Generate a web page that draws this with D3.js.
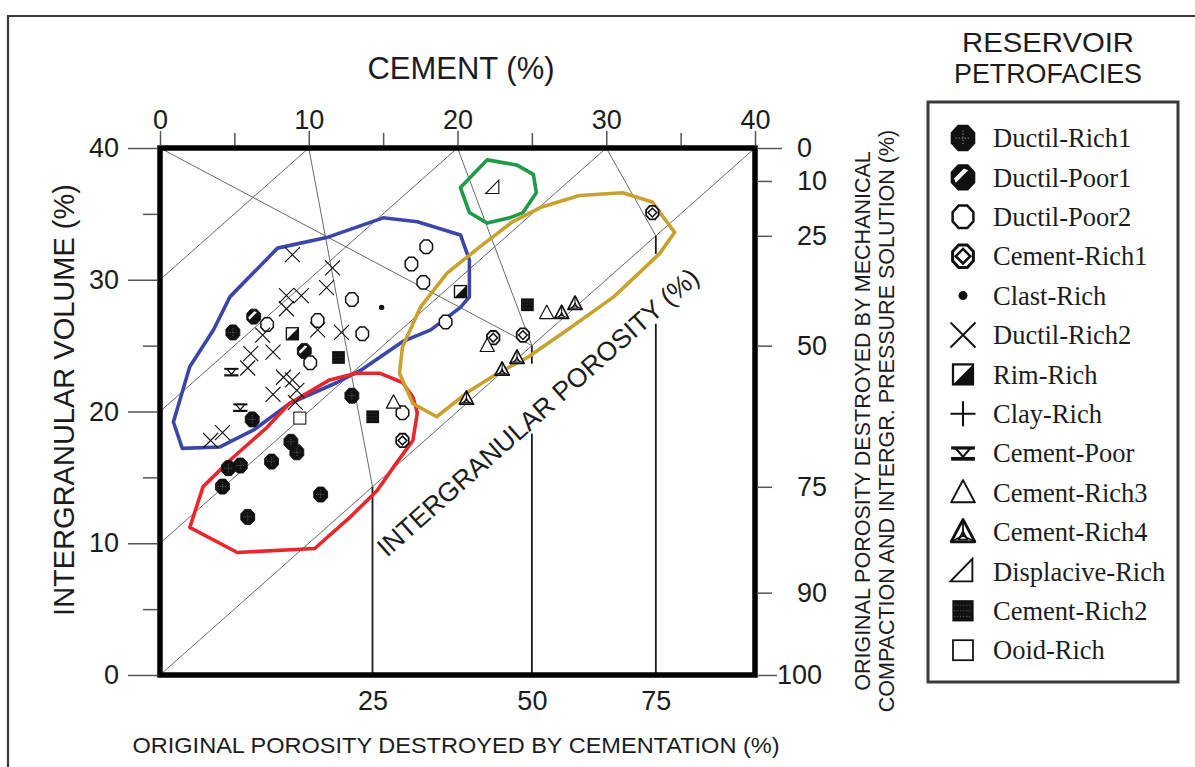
<!DOCTYPE html>
<html>
<head>
<meta charset="utf-8">
<script src="https://cdn.jsdelivr.net/npm/d3@7"></script>
<style>
  body { margin: 0; background: #fff; }
  svg { display: block; }
  text { fill: #1c1c1c; }
</style>
</head>
<body>
<svg id="chart" width="1195" height="767"></svg>
<script>
// ---- axes ----
const cementTicks = [0, 10, 20, 30, 40];
const cementMinor = [5, 15, 25, 35];
const igvTicks = [0, 10, 20, 30, 40];
const igvMinor = [5, 15, 25, 35];
const compactionTicks = [0, 10, 25, 50, 75, 90, 100];   // % of original porosity lost by compaction
const cementationTicks = [25, 50, 75];                  // % of original porosity lost by cementation
const porosityLines = [0, 10, 20, 30];                  // intergranular porosity isolines
const ORIGINAL_POROSITY = 40;

// ---- petrofacies samples: [cement %, intergranular volume %] ----
const ductilRich1 = [[4.9, 26.0], [6.2, 19.4], [8.8, 17.7], [9.2, 16.9], [7.5, 16.2], [5.4, 15.9],
                     [4.6, 15.7], [4.2, 14.3], [10.8, 13.7], [5.9, 12.0], [12.9, 21.2]];
const ductilPoor1 = [[6.3, 27.2], [9.7, 24.6]];
const ductilPoor2 = [[7.2, 26.6], [10.6, 26.9], [12.9, 28.5], [13.6, 25.9], [16.9, 31.2], [17.9, 32.5],
                     [17.7, 29.8], [19.2, 26.8], [10.1, 23.7], [16.3, 19.9]];
const cementRich1 = [[16.3, 17.8], [22.4, 25.6], [24.4, 25.8], [33.1, 35.1]];
const clastRich = [[14.9, 27.9]];
const ductilRich2 = [[8.9, 31.9], [11.6, 30.9], [11.2, 29.4], [8.5, 28.8], [9.5, 28.8], [8.5, 27.8],
                     [10.6, 26.2], [12.2, 26.0], [6.9, 25.8], [7.6, 24.5], [6.1, 24.4], [5.9, 23.3],
                     [8.3, 22.6], [8.9, 22.4], [9.2, 21.6], [7.6, 21.3], [9.1, 20.7], [3.4, 17.8], [4.2, 18.4]];
const rimRich = [[20.2, 29.1], [8.9, 25.9]];
const clayRich = [];
const cementPoor = [[4.8, 23.0], [5.4, 20.3]];
const cementRich3 = [[15.7, 20.7], [26.0, 27.5], [22.0, 25.0]];
const cementRich4 = [[27.0, 27.5], [27.9, 28.2], [24.0, 24.1], [23.0, 23.2], [20.6, 21.0]];
const displaciveRich = [[22.4, 37.0]];
const cementRich2 = [[12.0, 24.1], [14.3, 19.6], [24.7, 28.1]];
const ooidRich = [[9.4, 19.5]];

// ---- petrofacies envelopes ----
const blueEnvelope = [[1.5, 17.2], [0.9, 19.2], [2.0, 23.4], [3.6, 26.2], [4.7, 28.7], [7.9, 32.4],
                      [11.2, 33.2], [15.0, 34.7], [17.3, 34.4], [20.2, 33.4], [20.8, 31.5], [20.8, 28.7],
                      [20.2, 27.9], [18.2, 26.2], [16.3, 25.3], [13.6, 23.2], [11.9, 22.2], [8.7, 20.6],
                      [6.3, 18.6], [4.0, 17.3]];
const redEnvelope = [[2.0, 11.2], [5.2, 9.3], [10.4, 9.6], [12.8, 12.0], [14.6, 14.0], [15.9, 16.1],
                     [17.0, 17.8], [17.3, 19.9], [17.0, 21.1], [16.3, 22.2], [14.8, 22.9], [13.2, 22.9],
                     [11.4, 22.4], [8.7, 20.6], [7.2, 18.8], [4.7, 16.3], [2.9, 14.3]];
const greenEnvelope = [[20.2, 37.0], [22.0, 39.1], [24.0, 38.7], [25.1, 38.0], [25.3, 36.6], [24.4, 35.1],
                       [23.5, 34.7], [22.0, 34.3], [20.8, 35.1]];
const goldEnvelope = [[25.6, 35.5], [28.2, 36.4], [31.1, 36.6], [33.1, 35.9], [33.8, 34.8], [34.6, 33.6],
                      [33.6, 32.0], [30.5, 28.7], [27.4, 26.2], [24.7, 24.1], [22.7, 22.9], [20.6, 21.4],
                      [18.6, 19.6], [17.0, 20.6], [16.1, 22.9], [16.3, 24.9], [17.5, 27.9], [19.3, 30.5],
                      [21.5, 32.5], [23.7, 34.4]];

const facies = [
  { name: "Ductil-Rich1", data: ductilRich1 },
  { name: "Ductil-Poor1", data: ductilPoor1 },
  { name: "Ductil-Poor2", data: ductilPoor2 },
  { name: "Cement-Rich1", data: cementRich1 },
  { name: "Clast-Rich", data: clastRich },
  { name: "Ductil-Rich2", data: ductilRich2 },
  { name: "Rim-Rich", data: rimRich },
  { name: "Clay-Rich", data: clayRich },
  { name: "Cement-Poor", data: cementPoor },
  { name: "Cement-Rich3", data: cementRich3 },
  { name: "Cement-Rich4", data: cementRich4 },
  { name: "Displacive-Rich", data: displaciveRich },
  { name: "Cement-Rich2", data: cementRich2 },
  { name: "Ooid-Rich", data: ooidRich }
];
const envelopes = [
  { data: blueEnvelope, color: "#3c46a6" },
  { data: redEnvelope, color: "#e8262b" },
  { data: greenEnvelope, color: "#1e9b48" },
  { data: goldEnvelope, color: "#c9a12f" }
];

// ---- porosity-loss relations (Lundegard 1992) ----
const P0 = ORIGINAL_POROSITY;
// IGV left after a given % of the original porosity is lost by compaction
const igvFromCompaction = g => { const k = P0 * (1 - g / 100); return 100 * k / ((100 - P0) + k); };
// cement along a line of constant % cementation loss
const cementAt = (f, igv) => (100 - igv) * P0 * (f / 100) / (100 - P0);
// where that line reaches zero porosity (cement = IGV)
const cementationEnd = f => { const a = P0 * (f / 100) / (100 - P0); return 100 * a / (1 + a); };

// ---- layout ----
const svg = d3.select("#chart");
const x = d3.scaleLinear().domain([0, 40]).range([160, 755]);
const y = d3.scaleLinear().domain([0, 40]).range([675, 148]);

// outer frame
svg.append("path").attr("d", "M8,767V16H1195").attr("fill", "none")
  .attr("stroke", "#3a3a3a").attr("stroke-width", 2.2);

const plot = svg.append("g");
const thin = { stroke: "#6a6a6a", width: 1 };

function seg(g, a, b, color, w) {
  g.append("line").attr("x1", x(a[0])).attr("y1", y(a[1])).attr("x2", x(b[0])).attr("y2", y(b[1]))
    .attr("stroke", color).attr("stroke-width", w);
}

// porosity isolines: IGV = cement + porosity
porosityLines.forEach(p => seg(plot, [0, p], [40 - p, 40], thin.stroke, thin.width));
// equal compaction / cementation loss line
const mid = cementationEnd(50);
seg(plot, [0, P0], [mid, mid], thin.stroke, thin.width);
// constant cementation-loss lines and their drop to the lower axis
const labelGapTop = 18, labelGapBottom = 88; // px below the zero-porosity line kept clear for its label
cementationTicks.forEach(f => {
  const end = cementationEnd(f);
  seg(plot, [cementAt(f, P0), P0], [end, end], thin.stroke, thin.width);
  const xe = x(end), ye = y(end);
  const crossesLabel = f > 25;
  const segsV = crossesLabel ? [[ye, ye + labelGapTop], [ye + labelGapBottom, y(0)]] : [[ye, y(0)]];
  segsV.forEach(s => plot.append("line").attr("x1", xe).attr("x2", xe).attr("y1", s[0]).attr("y2", s[1])
    .attr("stroke", "#1a1a1a").attr("stroke-width", 1.8));
});

// zero-porosity line label
const ang = Math.atan2(y(40) - y(0), x(40) - x(0)) * 180 / Math.PI;
plot.append("text")
  .attr("transform", `translate(${x(23)},${y(23)}) rotate(${ang})`)
  .attr("x", 0).attr("y", 63).attr("text-anchor", "middle")
  .attr("font-family", "'Liberation Sans', Arial, sans-serif").attr("font-size", 26.5)
  .text("INTERGRANULAR POROSITY (%)");

// envelopes
const lineGen = d3.line().x(d => x(d[0])).y(d => y(d[1])).curve(d3.curveLinearClosed);
envelopes.forEach(e => plot.append("path").attr("d", lineGen(e.data)).attr("fill", "none")
  .attr("stroke", e.color).attr("stroke-width", 3.6).attr("stroke-linejoin", "round"));

// ---- symbols ----
function octPath(r) {
  const p = [];
  for (let i = 0; i < 8; i++) {
    const a = Math.PI / 8 + i * Math.PI / 4;
    p.push([r * Math.cos(a), r * 1.08 * Math.sin(a)]);
  }
  return d3.line()(p) + "Z";
}
const triPath = r => `M0,${-r}L${r * 0.95},${r * 0.78}L${-r * 0.95},${r * 0.78}Z`;

function drawSymbol(g, name, r) {
  const k = "#111";
  switch (name) {
    case "Ductil-Rich1":
      g.append("path").attr("d", octPath(r)).attr("fill", k).attr("stroke", k).attr("stroke-width", r * 0.12);
      g.append("path").attr("d", `M${-r * 0.6},0H${r * 0.6}M0,${-r * 0.6}V${r * 0.6}`)
        .attr("stroke", "#6c6c6c").attr("stroke-width", r * 0.1).attr("stroke-dasharray", `${r * 0.12},${r * 0.12}`);
      break;
    case "Ductil-Poor1":
      g.append("path").attr("d", octPath(r)).attr("fill", k).attr("stroke", k).attr("stroke-width", r * 0.12);
      g.append("path").attr("d", `M${-r * 0.72},${r * 0.08}L${r * 0.08},${-r * 0.72}L${r * 0.42},${-r * 0.58}L${-r * 0.58},${r * 0.42}Z`)
        .attr("fill", "#fff");
      break;
    case "Ductil-Poor2":
      g.append("path").attr("d", octPath(r * 0.9)).attr("fill", "#fff").attr("stroke", k).attr("stroke-width", r * 0.2);
      break;
    case "Cement-Rich1":
      g.append("path").attr("d", octPath(r * 0.9)).attr("fill", "#fff").attr("stroke", k).attr("stroke-width", r * 0.24);
      g.append("path").attr("d", `M0,${-r * 0.58}L${r * 0.58},0L0,${r * 0.58}L${-r * 0.58},0Z`)
        .attr("fill", "none").attr("stroke", k).attr("stroke-width", r * 0.2);
      break;
    case "Clast-Rich":
      g.append("circle").attr("r", r * 0.36).attr("fill", k);
      break;
    case "Ductil-Rich2":
      g.append("path").attr("d", `M${-r},${-r}L${r},${r}M${-r},${r}L${r},${-r}`)
        .attr("stroke", k).attr("stroke-width", r * 0.15).attr("fill", "none");
      break;
    case "Rim-Rich":
      g.append("rect").attr("x", -r * 0.8).attr("y", -r * 0.8).attr("width", r * 1.6).attr("height", r * 1.6)
        .attr("fill", "#fff").attr("stroke", k).attr("stroke-width", r * 0.18);
      g.append("path").attr("d", `M${r * 0.8},${-r * 0.8}L${r * 0.8},${r * 0.8}L${-r * 0.8},${r * 0.8}Z`).attr("fill", k);
      break;
    case "Clay-Rich":
      g.append("path").attr("d", `M${-r},0H${r}M0,${-r}V${r}`).attr("stroke", k).attr("stroke-width", r * 0.17);
      break;
    case "Cement-Poor":
      g.append("path").attr("d", `M${-r * 0.95},${-r * 0.42}H${r * 0.95}`).attr("stroke", k).attr("stroke-width", r * 0.26);
      g.append("path").attr("d", `M${-r * 0.6},${-r * 0.42}L${r * 0.6},${-r * 0.42}L0,${r * 0.3}Z`)
        .attr("fill", "none").attr("stroke", k).attr("stroke-width", r * 0.17);
      g.append("path").attr("d", `M${-r * 0.95},${r * 0.45}H${r * 0.95}`).attr("stroke", k).attr("stroke-width", r * 0.3);
      break;
    case "Cement-Rich3":
      g.append("path").attr("d", triPath(r)).attr("fill", "#fff").attr("stroke", k).attr("stroke-width", r * 0.16)
        .attr("stroke-linejoin", "round");
      break;
    case "Cement-Rich4": {
      g.append("path").attr("d", triPath(r)).attr("fill", "#fff").attr("stroke", k).attr("stroke-width", r * 0.22)
        .attr("stroke-linejoin", "round");
      const c = r * 0.3;
      g.append("path").attr("d", `M0,${-r}L0,${c}M${r * 0.95},${r * 0.78}L0,${c}M${-r * 0.95},${r * 0.78}L0,${c}`)
        .attr("stroke", k).attr("stroke-width", r * 0.14);
      g.append("path").attr("d", `M0,${c - r * 0.35}L${r * 0.35},${r * 0.6}L${-r * 0.35},${r * 0.6}Z`)
        .attr("fill", "none").attr("stroke", k).attr("stroke-width", r * 0.14);
      break;
    }
    case "Displacive-Rich":
      g.append("path").attr("d", `M${-r},${r * 0.8}L${r * 0.75},${r * 0.8}L${r * 0.75},${-r}Z`)
        .attr("fill", "none").attr("stroke", k).attr("stroke-width", r * 0.15).attr("stroke-linejoin", "miter");
      break;
    case "Cement-Rich2":
      g.append("rect").attr("x", -r * 0.85).attr("y", -r * 0.85).attr("width", r * 1.7).attr("height", r * 1.7).attr("fill", k);
      [-0.45, 0, 0.45].forEach(a => g.append("path")
        .attr("d", `M${-r * 0.7},${a * r}H${r * 0.7}`).attr("stroke", "#777").attr("stroke-width", r * 0.07)
        .attr("stroke-dasharray", `${r * 0.08},${r * 0.16}`));
      break;
    case "Ooid-Rich":
      g.append("rect").attr("x", -r * 0.8).attr("y", -r * 0.8).attr("width", r * 1.6).attr("height", r * 1.6)
        .attr("fill", "#fff").attr("stroke", k).attr("stroke-width", r * 0.14);
      break;
  }
}

// samples
const pts = plot.append("g");
facies.forEach(f => {
  f.data.forEach(d => {
    const g = pts.append("g").attr("transform", `translate(${x(d[0])},${y(d[1])})`);
    drawSymbol(g, f.name, 7.5);
  });
});

// plot frame
svg.append("rect").attr("x", x(0)).attr("y", y(40)).attr("width", x(40) - x(0)).attr("height", y(0) - y(40))
  .attr("fill", "none").attr("stroke", "#000").attr("stroke-width", 5.5);

// ---- axes ----
const sans = "'Liberation Sans', Arial, sans-serif";
function styleAxis(g, size) {
  g.select(".domain").remove();
  g.selectAll(".tick line").attr("stroke", "#555").attr("stroke-width", 1.5);
  g.selectAll(".tick text").attr("font-family", sans).attr("font-size", size).attr("fill", "#1c1c1c");
}
// top: cement
const topAxis = svg.append("g").attr("transform", `translate(0,${y(40) - 3})`)
  .call(d3.axisTop(x).tickValues(cementTicks).tickSize(14).tickPadding(2));
styleAxis(topAxis, 27);
const topMinor = svg.append("g").attr("transform", `translate(0,${y(40) - 3})`)
  .call(d3.axisTop(x).tickValues(cementMinor).tickSize(12).tickFormat(""));
styleAxis(topMinor, 27);

// left: intergranular volume
const leftAxis = svg.append("g").attr("transform", `translate(${x(0) - 3},0)`)
  .call(d3.axisLeft(y).tickValues(igvTicks).tickSize(29).tickPadding(9));
styleAxis(leftAxis, 27);
const leftMinor = svg.append("g").attr("transform", `translate(${x(0) - 3},0)`)
  .call(d3.axisLeft(y).tickValues(igvMinor).tickSize(14).tickFormat(""));
styleAxis(leftMinor, 27);

// right: porosity lost by compaction
const rightAxis = svg.append("g").attr("transform", `translate(${x(40) + 2},0)`)
  .call(d3.axisRight(y).tickValues(compactionTicks.map(igvFromCompaction))
    .tickFormat((d, i) => compactionTicks[i]).tickSize(15).tickPadding(25));
styleAxis(rightAxis, 27);
rightAxis.selectAll(".tick").each(function (d, i) {
  const v = compactionTicks[i];
  const t = d3.select(this);
  if (v === 0) t.select("line").attr("x2", 25);
  if (v === 100) { t.select("line").attr("x2", 20); t.select("text").attr("x", 20); }
});

// bottom: porosity lost by cementation
const bottomAxis = svg.append("g").attr("transform", `translate(0,${y(0)})`)
  .call(d3.axisBottom(x).tickValues(cementationTicks.map(cementationEnd))
    .tickFormat((d, i) => cementationTicks[i]).tickSize(0).tickPadding(16));
styleAxis(bottomAxis, 27);

// axis titles
svg.append("text").attr("x", 461).attr("y", 79).attr("text-anchor", "middle")
  .attr("font-family", sans).attr("font-size", 31).attr("textLength", 187).attr("lengthAdjust", "spacingAndGlyphs")
  .text("CEMENT (%)");
svg.append("text").attr("transform", "translate(74,400) rotate(-90)").attr("text-anchor", "middle")
  .attr("font-family", sans).attr("font-size", 29).text("INTERGRANULAR VOLUME (%)");
svg.append("text").attr("x", 456).attr("y", 753).attr("text-anchor", "middle")
  .attr("font-family", sans).attr("font-size", 22).attr("textLength", 647).attr("lengthAdjust", "spacingAndGlyphs")
  .text("ORIGINAL POROSITY DESTROYED BY CEMENTATION (%)");
svg.append("text").attr("transform", "translate(870,421) rotate(-90)").attr("text-anchor", "middle")
  .attr("font-family", sans).attr("font-size", 21.5).text("ORIGINAL POROSITY DESTROYED BY MECHANICAL");
svg.append("text").attr("transform", "translate(894,421) rotate(-90)").attr("text-anchor", "middle")
  .attr("font-family", sans).attr("font-size", 21.5).text("COMPACTION AND INTERGR. PRESSURE SOLUTION (%)");

// ---- legend ----
svg.append("text").attr("x", 1048).attr("y", 52).attr("text-anchor", "middle")
  .attr("font-family", sans).attr("font-size", 27.5).attr("textLength", 172).attr("lengthAdjust", "spacingAndGlyphs")
  .text("RESERVOIR");
svg.append("text").attr("x", 1048).attr("y", 83).attr("text-anchor", "middle")
  .attr("font-family", sans).attr("font-size", 27.5).attr("textLength", 188).attr("lengthAdjust", "spacingAndGlyphs")
  .text("PETROFACIES");
svg.append("rect").attr("x", 928).attr("y", 102).attr("width", 250).attr("height", 580)
  .attr("fill", "#fff").attr("stroke", "#3a3a3a").attr("stroke-width", 3);
const legend = svg.append("g");
facies.forEach((f, i) => {
  const cy = 138 + i * 39.4;
  const g = legend.append("g").attr("transform", `translate(963,${cy})`);
  drawSymbol(g, f.name, 12.5);
  legend.append("text").attr("x", 993).attr("y", cy).attr("dy", "0.35em")
    .attr("font-family", "'Liberation Serif', 'Times New Roman', serif").attr("font-size", 26.5)
    .text(f.name);
});
</script>
</body>
</html>
